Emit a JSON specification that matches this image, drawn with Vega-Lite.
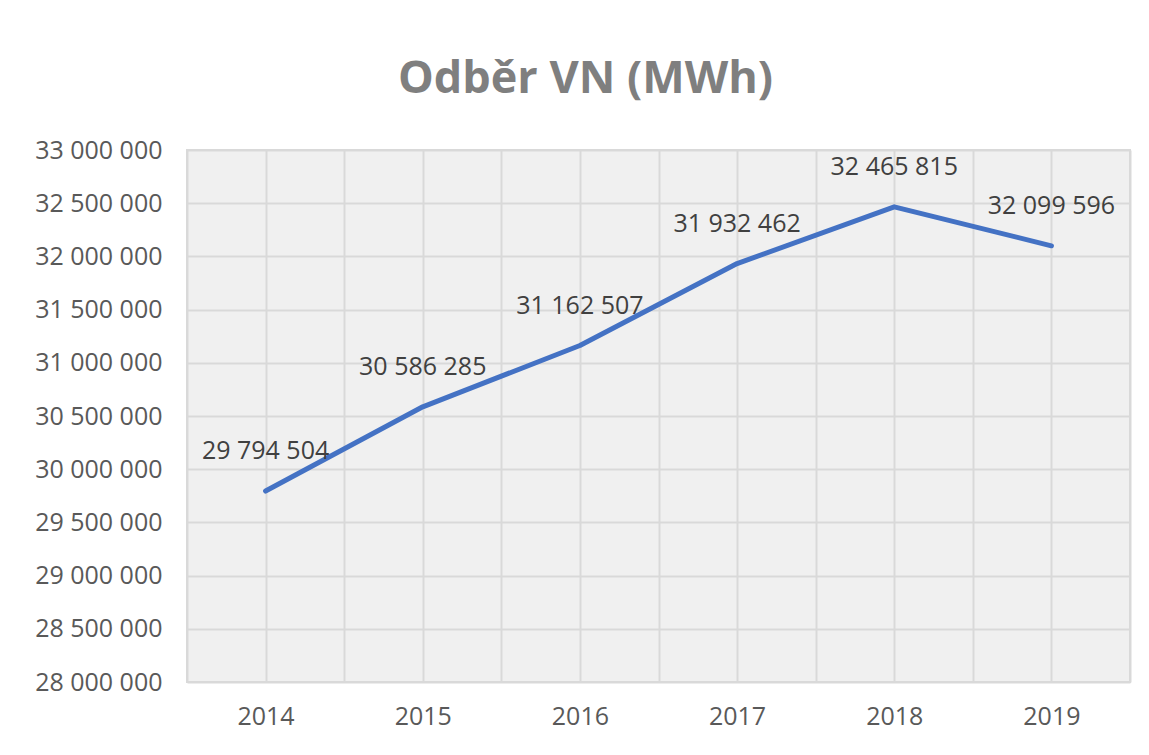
{
  "$schema": "https://vega.github.io/schema/vega-lite/v6.json",
  "width": 943,
  "height": 532,
  "autosize": {"type": "none"},
  "padding": {"left": 187, "top": 150, "right": 19, "bottom": 73},
  "background": "white",
  "title": {
    "text": "Odběr VN (MWh)",
    "font": "Open Sans",
    "fontSize": 45,
    "fontWeight": "bold",
    "color": "#7f7f7f",
    "anchor": "middle",
    "frame": "group",
    "dx": -73,
    "offset": 36
  },
  "config": {
    "locale": {
      "number": {"decimal": ",", "thousands": " ", "grouping": [3], "currency": ["", " Kč"]}
    },
    "view": {"fill": "#f0f0f0", "stroke": "#d9d9d9", "strokeWidth": 2},
    "axis": {
      "labelFont": "Open Sans",
      "labelFontSize": 25,
      "labelColor": "#595959",
      "gridColor": "#d9d9d9",
      "gridWidth": 2,
      "ticks": false,
      "domain": false,
      "title": null
    }
  },
  "data": {
    "values": [
      {"year": 2014, "value": 29794504},
      {"year": 2015, "value": 30586285},
      {"year": 2016, "value": 31162507},
      {"year": 2017, "value": 31932462},
      {"year": 2018, "value": 32465815},
      {"year": 2019, "value": 32099596}
    ]
  },
  "encoding": {
    "x": {
      "field": "year",
      "type": "quantitative",
      "scale": {"domain": [2013.5, 2019.5], "nice": false, "zero": false},
      "axis": {
        "values": [2013.5, 2014, 2014.5, 2015, 2015.5, 2016, 2016.5, 2017, 2017.5, 2018, 2018.5, 2019, 2019.5],
        "labelExpr": "datum.value % 1 === 0 ? datum.value : ''",
        "labelPadding": 22,
        "labelOverlap": false,
        "labelFlush": false
      }
    },
    "y": {
      "field": "value",
      "type": "quantitative",
      "scale": {"domain": [28000000, 33000000], "nice": false, "zero": false},
      "axis": {
        "values": [28000000, 28500000, 29000000, 29500000, 30000000, 30500000, 31000000, 31500000, 32000000, 32500000, 33000000],
        "format": ",.0f",
        "labelPadding": 25
      }
    }
  },
  "layer": [
    {
      "mark": {"type": "line", "color": "#4472c4", "strokeWidth": 5, "strokeCap": "round", "strokeJoin": "round"}
    },
    {
      "mark": {"type": "text", "font": "Open Sans", "fontSize": 25, "color": "#404040", "baseline": "middle", "align": "center", "dy": -40},
      "encoding": {
        "text": {"field": "value", "type": "quantitative", "format": ",.0f"}
      }
    }
  ]
}
